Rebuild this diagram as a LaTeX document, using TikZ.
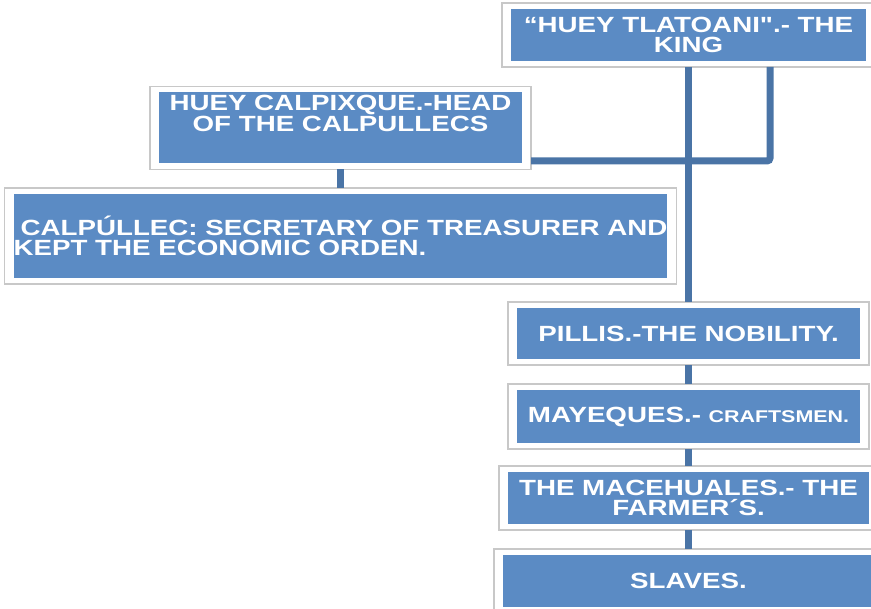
\documentclass[tikz,border=0pt]{standalone}
\usepackage{fontspec}
\usepackage{tikz}

\newfontfamily\boxfont[FakeStretch=1.26]{Liberation Sans}
\definecolor{boxblue}{RGB}{91,139,196}
\definecolor{lineblue}{RGB}{74,116,166}
\definecolor{framegray}{RGB}{200,200,200}

\tikzset{
	box/.style={fill=boxblue, text=white, inner sep=0pt, outer xsep=9pt, outer ysep=6pt,
		font=\boxfont\bfseries\fontsize{22}{20.5}\selectfont, align=center},
	frame/.style={draw=framegray, line width=1.2pt},
	conn/.style={draw=lineblue, line width=7pt}
}

\begin{document}
\begin{tikzpicture}[x=1pt, y=-1pt]
	
	\useasboundingbox (0, 0) rectangle (871, 609);
	
	\node[box, minimum width=355, minimum height=52] (king)       at (688.5, 35)  {“HUEY TLATOANI".- THE\\KING};
	\node[box, minimum width=363, minimum height=71] (calpixque)  at (340.5, 128) {\parbox[c][65pt][t]{360pt}{\centering HUEY CALPIXQUE.-HEAD\\OF THE CALPULLECS}};
	\node[box, minimum width=651, minimum height=84, align=left] (calpullec) at (340.5, 236) {\hspace*{7pt}CALPÚLLEC: SECRETARY OF TREASURER AND\\KEPT THE ECONOMIC ORDEN.};
	\node[box, minimum width=343, minimum height=51] (pillis)     at (688.5, 333.5) {PILLIS.-THE NOBILITY.};
	\node[box, minimum width=343, minimum height=53] (mayeques)   at (688.5, 416.5) {MAYEQUES.- {\fontsize{17}{18}\selectfont CRAFTSMEN.}};
	\node[box, minimum width=361, minimum height=52] (macehuales) at (688.5, 498)   {THE MACEHUALES.- THE\\FARMER´S.};
	\node[box, minimum width=371, minimum height=52] (slaves)     at (688.5, 581)   {SLAVES.};
	
	\foreach \n in {king, calpixque, calpullec, pillis, mayeques, macehuales, slaves}
		\draw[frame] (\n.south west) rectangle (\n.north east);
	
	\coordinate (elbow) at (770, 161);
	
	\draw[conn, rounded corners=3pt] (calpixque.east |- elbow) -- (elbow) -- (elbow |- king.south);
	\path[conn] (king) edge (pillis);
	\path[conn] (pillis) edge (mayeques);
	\path[conn] (mayeques) edge (macehuales);
	\path[conn] (macehuales) edge (slaves);
	\path[conn] (calpixque) edge (calpullec);
	
\end{tikzpicture}
\end{document}
